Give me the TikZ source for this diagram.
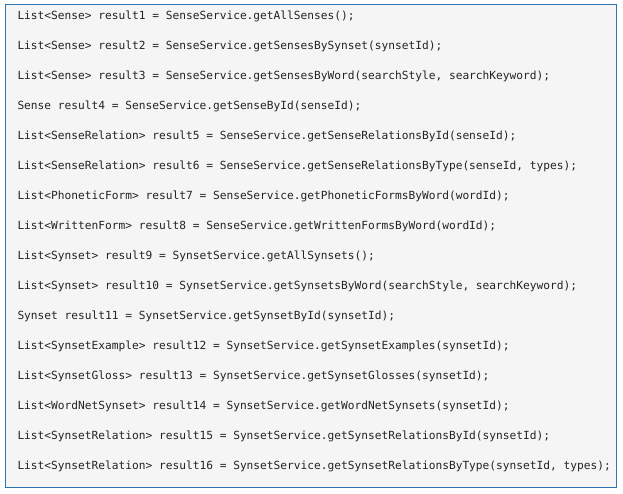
\documentclass[tikz,border=0pt]{standalone}
\usepackage{fontspec}
\usepackage{tikz}
\usetikzlibrary{positioning,calc}
\newfontfamily\codefont{DejaVu Sans Mono}
\definecolor{frameblue}{RGB}{46,117,182}
\definecolor{codebg}{RGB}{245,245,245}
\definecolor{codetext}{RGB}{35,35,35}

\begin{document}
\begin{tikzpicture}[x=1pt, y=-1pt, every node/.style={},
    codeline/.style={anchor=base west, inner sep=0pt, text=codetext,
        font=\codefont\fontsize{11.2}{13}\selectfont} ]
    \useasboundingbox (0,0) rectangle (623,494);

    % code box
    \draw[frameblue, line width=1.2pt, fill=codebg] (5.7,4.3) rectangle (616.3,487.3);

    \foreach \txt [count=\i] in {
        {List<Sense> result1 = SenseService.getAllSenses();},
        {List<Sense> result2 = SenseService.getSensesBySynset(synsetId);},
        {List<Sense> result3 = SenseService.getSensesByWord(searchStyle, searchKeyword);},
        {Sense result4 = SenseService.getSenseById(senseId);},
        {List<SenseRelation> result5 = SenseService.getSenseRelationsById(senseId);},
        {List<SenseRelation> result6 = SenseService.getSenseRelationsByType(senseId, types);},
        {List<PhoneticForm> result7 = SenseService.getPhoneticFormsByWord(wordId);},
        {List<WrittenForm> result8 = SenseService.getWrittenFormsByWord(wordId);},
        {List<Synset> result9 = SynsetService.getAllSynsets();},
        {List<Synset> result10 = SynsetService.getSynsetsByWord(searchStyle, searchKeyword);},
        {Synset result11 = SynsetService.getSynsetById(synsetId);},
        {List<SynsetExample> result12 = SynsetService.getSynsetExamples(synsetId);},
        {List<SynsetGloss> result13 = SynsetService.getSynsetGlosses(synsetId);},
        {List<WordNetSynset> result14 = SynsetService.getWordNetSynsets(synsetId);},
        {List<SynsetRelation> result15 = SynsetService.getSynsetRelationsById(synsetId);},
        {List<SynsetRelation> result16 = SynsetService.getSynsetRelationsByType(synsetId, types);}}
    {
        \node[codeline] (line_\i) at (17.3, {19.5+30*(\i-1)}) {\txt};
    }

\end{tikzpicture}
\end{document}
